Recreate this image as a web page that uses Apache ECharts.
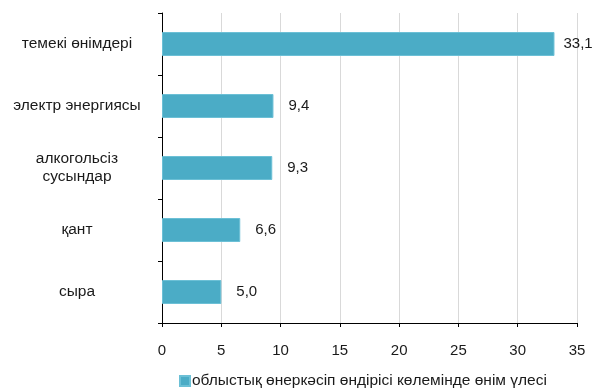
<!DOCTYPE html>
<html>
<head>
<meta charset="utf-8">
<script src="https://cdn.jsdelivr.net/npm/echarts@6/dist/echarts.min.js"></script>
<style>
  html, body { margin: 0; padding: 0; background: #fff; }
  #chart { width: 593px; height: 390px; }
</style>
</head>
<body>
<div id="chart"></div>
<script>
// өнім түрлері (жоғарыдан төмен)
const categories = ['темекі өнімдері', 'электр энергиясы', 'алкогольсіз\nсусындар', 'қант', 'сыра'];
const shares = [33.1, 9.4, 9.3, 6.6, 5.0];
const seriesName = 'облыстық өнеркәсіп өндірісі көлемінде өнім үлесі';
const xMin = 0;
const xMax = 35;
const xStep = 5;

const chart = echarts.init(document.getElementById('chart'));
const font = 'Liberation Sans, Arial, sans-serif';

const option = {
  animation: false,
  textStyle: { fontFamily: font },
  grid: { left: 162, right: 16, top: 13, bottom: 67 },
  legend: {
    data: [seriesName],
    left: 174,
    top: 368,
    icon: 'rect',
    itemWidth: 10,
    itemHeight: 10,
    itemGap: 2,
    textStyle: { color: '#1a1a1a', fontSize: 15.5, fontFamily: font, padding: [0, 0, 0, -3] }
  },
  xAxis: {
    type: 'value',
    min: xMin,
    max: xMax,
    interval: xStep,
    axisLine: { show: true, lineStyle: { color: '#000', width: 1 } },
    axisTick: { show: true, length: 4, lineStyle: { color: '#000' } },
    axisLabel: { color: '#1a1a1a', fontSize: 15, margin: 20, fontFamily: font },
    splitLine: { show: true, lineStyle: { color: '#d9d9d9', width: 1 } }
  },
  yAxis: {
    type: 'category',
    inverse: true,
    data: categories,
    axisLine: { show: true, lineStyle: { color: '#000', width: 1 } },
    axisTick: { show: true, length: 4, lineStyle: { color: '#000' } },
    axisLabel: {
      color: '#1a1a1a',
      fontSize: 15.5,
      align: 'center',
      margin: 85,
      lineHeight: 18,
      fontFamily: font
    }
  },
  series: [
    {
      name: seriesName,
      type: 'bar',
      barWidth: 24,
      data: shares.map(function (v, i) {
        return i === 0 ? { value: v, label: { distance: 9 } } : v;
      }),
      itemStyle: {
        color: '#4bacc6',
        borderColor: '#6cc0d6',
        borderWidth: 1
      },
      label: {
        show: true,
        position: 'right',
        distance: 15,
        color: '#1a1a1a',
        fontSize: 15,
        fontFamily: font,
        formatter: function (p) {
          return p.value.toFixed(1).replace('.', ',');
        }
      }
    }
  ]
};

chart.setOption(option);
</script>
</body>
</html>
